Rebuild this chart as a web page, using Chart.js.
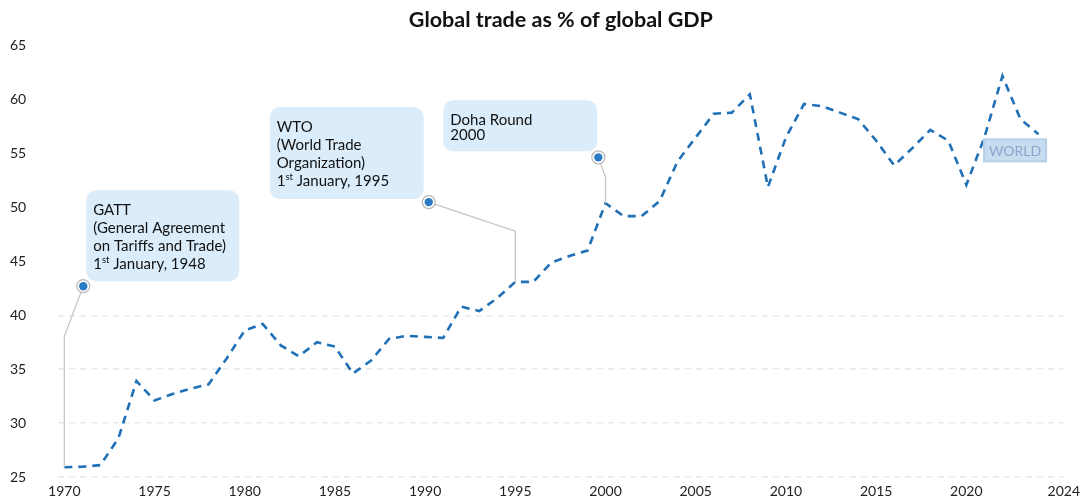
<!DOCTYPE html>
<html lang="en">
<head>
<meta charset="UTF-8">
<title>Global trade as % of global GDP</title>
<script src="https://cdn.jsdelivr.net/npm/chart.js"></script>
<style>
  html, body { margin: 0; padding: 0; background: #fff; }
  .wrap { width: 1086px; height: 500px; }
</style>
</head>
<body>
<div class="wrap"><canvas id="tradeChart" width="1086" height="500"></canvas></div>
<script>
// data
const years = [1970, 1971, 1972, 1973, 1974, 1975, 1976, 1977, 1978, 1979,
               1980, 1981, 1982, 1983, 1984, 1985, 1986, 1987, 1988, 1989,
               1990, 1991, 1992, 1993, 1994, 1995, 1996, 1997, 1998, 1999,
               2000, 2001, 2002, 2003, 2004, 2005, 2006, 2007, 2008, 2009,
               2010, 2011, 2012, 2013, 2014, 2015, 2016, 2017, 2018, 2019,
               2020, 2021, 2022, 2023, 2024];
const tradeShare = [25.9, 25.95, 26.1, 28.6, 33.9, 32.1, 32.7, 33.2, 33.6, 36.0,
                    38.6, 39.2, 37.2, 36.2, 37.5, 37.1, 34.6, 35.8, 37.8, 38.1,
                    38.0, 37.9, 40.8, 40.4, 41.6, 43.1, 43.1, 44.9, 45.5, 46.0,
                    50.4, 49.2, 49.2, 50.6, 54.3, 56.5, 58.7, 58.8, 60.5, 51.9,
                    56.5, 59.6, 59.4, 58.8, 58.2, 56.2, 53.9, 55.5, 57.2, 56.2,
                    52.1, 56.5, 62.2, 58.2, 56.8];
const tickYears = [1970, 1975, 1980, 1985, 1990, 1995, 2000, 2005, 2010, 2015, 2020];
const yTicks = [25, 30, 35, 40, 45, 50, 55, 60, 65];

// annotation callouts: marker point, connector bend, target year on the line
const notes = [
  { lines: ['GATT', '(General Agreement', 'on Tariffs and Trade)', '1st January, 1948'],
    marker: [1971.05, 42.7], bendValue: 38.05, target: 1970,
    box: { dx: 3, dy: -96, w: 153, h: 91 }, gap: 18 },
  { lines: ['WTO', '(World Trade', 'Organization)', '1st January, 1995'],
    marker: [1990.2, 50.5], bendValue: 47.8, target: 1995,
    box: { dx: -159, dy: -95, w: 154, h: 92 }, gap: 18 },
  { lines: ['Doha Round', '2000'],
    marker: [1999.6, 54.65], bendValue: 52.8, target: 2000,
    box: { dx: -155, dy: -57, w: 154, h: 51 }, gap: 15 }
];
const seriesLabel = { text: 'WORLD', x: 2022.7, y: 55.3 };

const FONT = 'Lato, "Noto Sans", sans-serif';
const xMin = 1969.65, xMax = 2025.4;

function drawNoteLine(ctx, txt, x, y) {
  const m = txt.match(/^(\d+)(st|nd|rd|th)(.*)$/);
  ctx.font = '15px ' + FONT;
  if (!m) { ctx.fillText(txt, x, y); return; }
  ctx.fillText(m[1], x, y);
  let w = ctx.measureText(m[1]).width;
  ctx.font = '9.5px ' + FONT;
  ctx.fillText(m[2], x + w, y - 4);
  w += ctx.measureText(m[2]).width;
  ctx.font = '15px ' + FONT;
  ctx.fillText(m[3], x + w, y);
}

const notesPlugin = {
  id: 'notes',
  afterDatasetsDraw(chart) {
    const { ctx } = chart;
    const xs = chart.scales.x, ys = chart.scales.y;
    ctx.save();
    notes.forEach(n => {
      const mx = xs.getPixelForValue(n.marker[0]);
      const my = ys.getPixelForValue(n.marker[1]);
      const bx = xs.getPixelForValue(n.target);
      const by = ys.getPixelForValue(n.bendValue);
      const ty = ys.getPixelForValue(tradeShare[years.indexOf(n.target)]);

      // connector
      ctx.strokeStyle = '#c6c6c6';
      ctx.lineWidth = 1.3;
      ctx.setLineDash([]);
      ctx.beginPath();
      ctx.moveTo(mx, my);
      ctx.lineTo(bx, by);
      ctx.lineTo(bx, ty);
      ctx.stroke();

      // box
      const bxl = mx + n.box.dx, byt = my + n.box.dy;
      ctx.fillStyle = '#dbedfb';
      ctx.beginPath();
      ctx.roundRect(bxl, byt, n.box.w, n.box.h, 10);
      ctx.fill();

      // text
      ctx.fillStyle = '#111';
      ctx.textBaseline = 'middle';
      ctx.textAlign = 'left';
      n.lines.forEach((t, i) => drawNoteLine(ctx, t, bxl + 7, byt + 20 + i * n.gap));

      // marker
      ctx.fillStyle = '#fff';
      ctx.strokeStyle = '#b8b8b8';
      ctx.lineWidth = 1.2;
      ctx.beginPath();
      ctx.arc(mx, my, 6.5, 0, Math.PI * 2);
      ctx.fill();
      ctx.stroke();
      ctx.fillStyle = '#2a7cc4';
      ctx.beginPath();
      ctx.arc(mx, my, 4.2, 0, Math.PI * 2);
      ctx.fill();
    });

    // series label box
    const lx = xs.getPixelForValue(seriesLabel.x);
    const ly = ys.getPixelForValue(seriesLabel.y);
    ctx.fillStyle = 'rgba(188, 214, 236, 0.85)';
    ctx.strokeStyle = '#b4d0e8';
    ctx.lineWidth = 2;
    ctx.fillRect(lx - 31, ly - 11, 62, 22);
    ctx.strokeRect(lx - 31, ly - 11, 62, 22);
    ctx.fillStyle = '#8ba8cc';
    ctx.font = '14px ' + FONT;
    ctx.textAlign = 'center';
    ctx.textBaseline = 'middle';
    ctx.fillText(seriesLabel.text, lx, ly + 1);
    ctx.restore();
  }
};

new Chart(document.getElementById('tradeChart'), {
  type: 'line',
  data: {
    datasets: [{
      label: 'WORLD',
      data: years.map((yr, i) => ({ x: yr, y: tradeShare[i] })),
      borderColor: '#1f70b6',
      borderWidth: 2.6,
      borderDash: [8, 6],
      pointRadius: 0,
      tension: 0,
      fill: false
    }]
  },
  options: {
    responsive: false,
    animation: false,
    layout: { padding: { left: 10, right: 0, top: 0, bottom: 0 } },
    plugins: {
      legend: { display: false },
      tooltip: { enabled: false },
      title: {
        display: true,
        fullSize: false,
        text: 'Global trade as % of global GDP',
        color: '#111',
        font: { family: FONT, size: 21.5, weight: 'bold' },
        padding: { top: 7, bottom: 13 }
      }
    },
    scales: {
      x: {
        type: 'linear',
        min: xMin,
        max: xMax,
        afterBuildTicks: s => {
          s.ticks = tickYears.map(v => ({ value: v })).concat([{ value: xMax }]);
        },
        afterFit: s => { s.height = 23; },
        grid: { display: false, drawTicks: false },
        border: { display: false },
        ticks: {
          autoSkip: false,
          maxRotation: 0,
          padding: 6,
          color: '#222',
          font: { family: FONT, size: 14 },
          callback: (v, i, t) => i === t.length - 1 ? String(years[years.length - 1]) : String(v)
        }
      },
      y: {
        min: 25,
        max: 65,
        afterBuildTicks: s => { s.ticks = yTicks.map(v => ({ value: v })); },
        afterFit: s => { s.width = 48; },
        grid: {
          drawTicks: false,
          lineWidth: 1.5,
          color: c => (c.tick && c.tick.value <= 40) ? '#e9e9e9' : 'rgba(0,0,0,0)'
        },
        border: { display: false, dash: [6, 5] },
        ticks: {
          crossAlign: 'far',
          padding: 0,
          color: '#222',
          font: { family: FONT, size: 14 }
        }
      }
    }
  },
  plugins: [notesPlugin]
});
</script>
</body>
</html>
